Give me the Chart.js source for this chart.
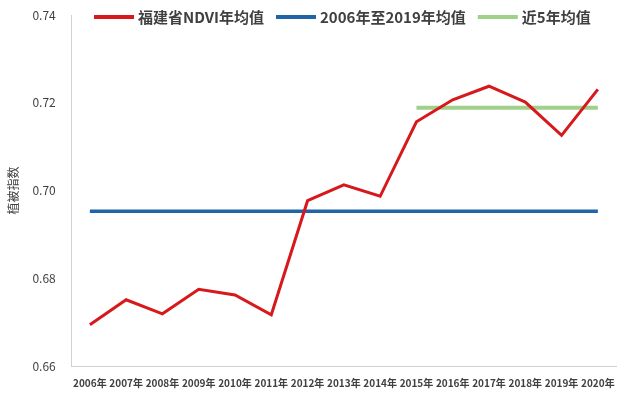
<!DOCTYPE html>
<html><head><meta charset="utf-8">
<script src="https://cdn.jsdelivr.net/npm/chart.js@4"></script>
<style>body{margin:0;background:#fff}#wrap{width:640px;height:418px}</style>
</head><body><div id="wrap"><canvas id="c"></canvas></div>
<script>
const years = ['2006年','2007年','2008年','2009年','2010年','2011年','2012年','2013年','2014年','2015年','2016年','2017年','2018年','2019年','2020年'];
const ndvi = [0.6694,0.6751,0.6719,0.6775,0.6762,0.6717,0.6977,0.7013,0.6987,0.7157,0.7207,0.7238,0.7202,0.7126,0.7231];
const mean0619 = 0.6953;
const mean5 = 0.7189;
const yTicks = [0.66,0.68,0.70,0.72,0.74];

const font = "'Noto Sans CJK SC', sans-serif";

// legend drawn over the top of the plot area, as in the original
const overlayLegend = {
  id: 'overlayLegend',
  afterDraw(chart) {
    const ctx = chart.ctx;
    ctx.save();
    ctx.font = 'bold 15px ' + font;
    ctx.textBaseline = 'middle';
    let x = 94;
    chart.data.datasets.forEach(ds => {
      ctx.strokeStyle = ds.borderColor;
      ctx.lineWidth = 4;
      ctx.beginPath(); ctx.moveTo(x, 17); ctx.lineTo(x + 40, 17); ctx.stroke();
      ctx.fillStyle = '#404040';
      ctx.fillText(ds.label, x + 44, 17);
      x += 44 + ctx.measureText(ds.label).width + 12;
    });
    ctx.restore();
  }
};

new Chart(document.getElementById('c'), {
  type: 'line',
  data: {
    labels: years,
    datasets: [
      {label: '福建省NDVI年均值', data: ndvi, borderColor: '#d7191c', backgroundColor: '#d7191c', borderWidth: 3, pointRadius: 0, tension: 0},
      {label: '2006年至2019年均值', data: years.map(() => mean0619), borderColor: '#1f65a8', backgroundColor: '#1f65a8', borderWidth: 3.5, pointRadius: 0},
      {label: '近5年均值', data: years.map((y, i) => i >= 9 ? mean5 : null), borderColor: '#9fd18a', backgroundColor: '#9fd18a', borderWidth: 4, pointRadius: 0}
    ]
  },
  plugins: [overlayLegend],
  options: {
    responsive: true, maintainAspectRatio: false, animation: false,
    layout: {padding: {left: 2, right: 24, top: 4, bottom: 26}},
    plugins: {legend: {display: false}, tooltip: {enabled: false}},
    scales: {
      x: {offset: true, grid: {display: false}, border: {color: '#d0d0d0'}, ticks: {font: {family: font, size: 10, weight: 'bold'}, color: '#404040', maxRotation: 0, autoSkip: false}},
      y: {min: 0.66, max: 0.74, afterBuildTicks: a => { a.ticks = yTicks.map(v => ({value: v})); },
        grid: {display: false}, border: {color: '#d0d0d0'},
        title: {display: true, text: '植被指数', font: {family: font, size: 12}, color: '#404040'},
        ticks: {font: {family: font, size: 12}, color: '#404040', padding: 8, callback: v => v.toFixed(2)}}
    }
  }
});
</script></body></html>
